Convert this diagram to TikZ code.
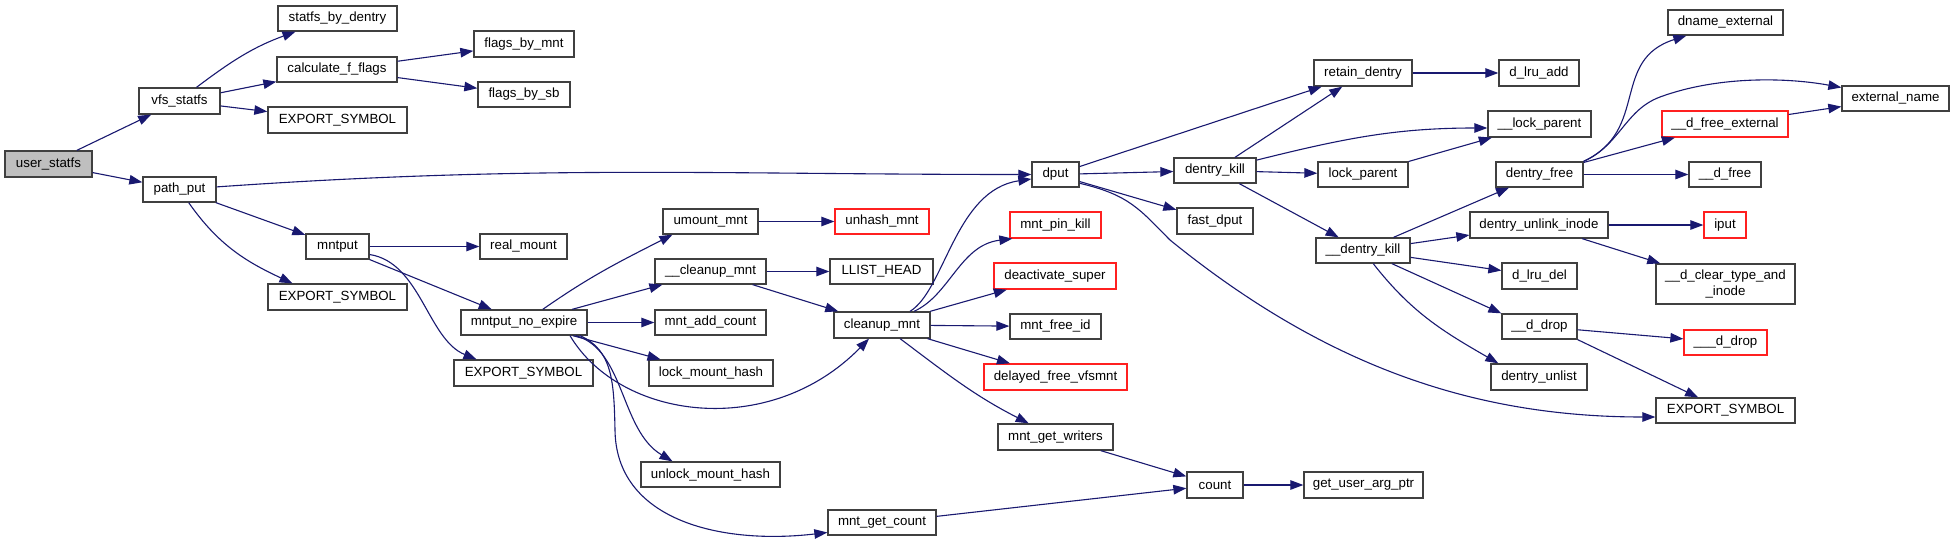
\documentclass[tikz,border=0pt]{standalone}
\usepackage{fontspec}
\setmainfont{Liberation Sans}
\usetikzlibrary{arrows.meta,calc}
\definecolor{edgec}{HTML}{191970}
\definecolor{boxc}{HTML}{404040}
\definecolor{redc}{HTML}{FF2020}
\definecolor{fillg}{HTML}{BFBFBF}
\newcommand\fnd[6]{\node[#1, minimum width=#4pt, minimum height=#5pt] (#2) at (#3) {#6};}
\begin{document}
\begin{tikzpicture}[x=1pt,y=1pt,
  fn/.style={draw=boxc, line width=1.3pt, inner sep=0pt, font=\fontsize{13.3}{15.5}\selectfont, text=black, align=center},
  redfn/.style={fn, draw=redc},
  rootfn/.style={fn, fill=fillg},
  call/.style={draw=edgec, line width=1.1pt, -{Triangle[length=13pt,width=9.5pt]}}
]
\fill[white] (0,0) rectangle (1955,-543);
\useasboundingbox (0,0) rectangle (1955,-543);

% nodes
\fnd{rootfn}{us}{48.5,-164}{87}{26}{user\_statfs}
\fnd{fn}{vfs}{179.5,-101}{81}{26}{vfs\_statfs}
\fnd{fn}{sbd}{337.5,-18.5}{119}{25}{statfs\_by\_dentry}
\fnd{fn}{cff}{337,-69.5}{120}{25}{calculate\_f\_flags}
\fnd{fn}{ex1}{337.5,-120}{139}{26}{EXPORT\_SYMBOL}
\fnd{fn}{fbm}{524,-44}{100}{26}{flags\_by\_mnt}
\fnd{fn}{fbs}{524,-94.5}{92}{25}{flags\_by\_sb}
\fnd{fn}{pp}{179.5,-189.5}{73}{25}{path\_put}
\fnd{fn}{mp}{337.5,-246.5}{63}{25}{mntput}
\fnd{fn}{rm}{523.5,-246.5}{87}{25}{real\_mount}
\fnd{fn}{ex2}{337.5,-297}{139}{26}{EXPORT\_SYMBOL}
\fnd{fn}{mne}{524,-322.5}{126}{25}{mntput\_no\_expire}
\fnd{fn}{ex3}{523.5,-373}{139}{26}{EXPORT\_SYMBOL}
\fnd{fn}{um}{710.5,-221.5}{95}{25}{umount\_mnt}
\fnd{redfn}{uh}{882,-221.5}{94}{25}{unhash\_mnt}
\fnd{fn}{cu}{710.5,-271.5}{111}{25}{\_\_cleanup\_mnt}
\fnd{fn}{lh}{881.5,-271.5}{103}{25}{LLIST\_HEAD}
\fnd{fn}{mac}{710.5,-322.5}{111}{25}{mnt\_add\_count}
\fnd{fn}{lmh}{711,-373}{124}{26}{lock\_mount\_hash}
\fnd{fn}{umh}{710.5,-474.5}{139}{25}{unlock\_mount\_hash}
\fnd{fn}{mgc}{882,-522.5}{108}{25}{mnt\_get\_count}
\fnd{fn}{cm}{882,-325}{96}{26}{cleanup\_mnt}
\fnd{fn}{dp}{1055.5,-174.5}{47}{25}{dput}
\fnd{redfn}{mpk}{1055.5,-225}{91}{26}{mnt\_pin\_kill}
\fnd{redfn}{ds}{1055,-276}{122}{26}{deactivate\_super}
\fnd{fn}{mfi}{1055.5,-326.5}{91}{25}{mnt\_free\_id}
\fnd{redfn}{dfv}{1055.5,-377}{143}{26}{delayed\_free\_vfsmnt}
\fnd{fn}{mgw}{1055.5,-437}{115}{26}{mnt\_get\_writers}
\fnd{fn}{cnt}{1215,-485}{56}{26}{count}
\fnd{fn}{guap}{1363.5,-485}{119}{26}{get\_user\_arg\_ptr}
\fnd{fn}{dk}{1215,-170.5}{82}{25}{dentry\_kill}
\fnd{fn}{fd}{1215,-221}{76}{26}{fast\_dput}
\fnd{fn}{rd}{1363,-73}{98}{26}{retain\_dentry}
\fnd{fn}{lp}{1363,-174.5}{90}{25}{lock\_parent}
\fnd{fn}{udk}{1363,-250.5}{94}{25}{\_\_dentry\_kill}
\fnd{fn}{dla}{1539,-73}{80}{26}{d\_lru\_add}
\fnd{fn}{ulp}{1539.5,-124}{103}{26}{\_\_lock\_parent}
\fnd{fn}{df}{1539.5,-174.5}{87}{25}{dentry\_free}
\fnd{fn}{dui}{1539,-225}{138}{26}{dentry\_unlink\_inode}
\fnd{fn}{dld}{1539.5,-276}{75}{26}{d\_lru\_del}
\fnd{fn}{udd}{1539.5,-326.5}{75}{25}{\_\_d\_drop}
\fnd{fn}{dul}{1539,-377}{96}{26}{dentry\_unlist}
\fnd{fn}{dne}{1725.5,-22.5}{115}{25}{dname\_external}
\fnd{redfn}{dfe}{1725,-124}{126}{26}{\_\_d\_free\_external}
\fnd{fn}{udf}{1725,-174.5}{72}{25}{\_\_d\_free}
\fnd{redfn}{ip}{1725,-225}{42}{26}{iput}
\fnd{fn}{dct}{1725.5,-284}{139}{40}{\_\_d\_clear\_type\_and\\\_inode}
\fnd{redfn}{uudd}{1725.5,-342.5}{83}{25}{\_\_\_d\_drop}
\fnd{fn}{ex4}{1725.5,-410.5}{139}{25}{EXPORT\_SYMBOL}
\fnd{fn}{en}{1895.5,-98.5}{107}{25}{external\_name}

% edges
\draw[call] (us) -- (vfs);
\draw[call] (us) -- (pp);
\draw[call] ($(vfs.north)+(17,0)$) to[out=37,in=200] ($(sbd.south)+(-42,0)$);
\draw[call] (vfs) -- (cff);
\draw[call] (vfs) -- (ex1);
\draw[call] (cff) -- (fbm);
\draw[call] (cff) -- (fbs);
\draw[call] (pp) to[out=4,in=180] (dp);
\draw[call] (pp) -- (mp);
\draw[call] (pp) to[out=-55,in=155] ($(ex2.north)+(-45,0)$);
\draw[call] (mp) -- (rm);
\draw[call] (mp) -- (mne);
\draw[call] (mp.-14) .. controls +(51,-8) and +(-49,20) .. ($(ex3.north)+(-47,0)$);
\draw[call] (mne) to[out=35,in=207] ($(um.south)+(-38,0)$);
\draw[call] (mne) -- (cu);
\draw[call] (mne) -- (mac);
\draw[call] (mne) -- (lmh);
\draw[call] ($(mne.south)+(46,0)$) .. controls (620,-420) and (770,-440) .. ($(cm.south)+(-13,0)$);
\draw[call] ($(mne.south)+(52,0)$) .. controls (625,-350) and (620,-430) .. ($(umh.north)+(-38,0)$);
\draw[call] ($(mne.south)+(56,0)$) .. controls (612,-350) and (614,-380) .. (615,-430)
   .. controls (616,-520) and (720,-545) .. ($(mgc.west)+(0,-10)$);
\draw[call] (um) -- (uh);
\draw[call] (cu) -- (lh);
\draw[call] (cu) -- (cm);
\draw[call] ($(cm.north)+(28,0)$) .. controls (945,-290) and (955,-190) .. ($(dp.west)+(0,-4.5)$);
\draw[call] ($(cm.north)+(32,0)$) .. controls (950,-295) and (960,-245) .. ($(mpk.south west)+(3,0)$);
\draw[call] (cm) -- (ds);
\draw[call] (cm) -- (mfi);
\draw[call] (cm) -- (dfv);
\draw[call] (cm) to[out=-37,in=153] (mgw);
\draw[call] (mgw) -- (cnt);
\draw[call] (mgc) -- (cnt);
\draw[call] (cnt) -- (guap);
\draw[call] (dp) -- (rd);
\draw[call] (dp) -- (dk);
\draw[call] (dp) -- (fd);
\draw[call] (dp.-20) .. controls (1130,-195) and (1140,-210) .. (1170,-240)
   .. controls (1330,-370) and (1480,-417) .. ($(ex4.west)+(0,-6.5)$);
\draw[call] (dk) -- (rd);
\draw[call] (dk) to[out=14,in=180] ($(ulp.west)+(0,-4)$);
\draw[call] (dk) -- (lp);
\draw[call] (dk) -- (udk);
\draw[call] (lp) -- (ulp);
\draw[call] (rd) -- (dla);
\draw[call] (udk) -- (df);
\draw[call] (udk) -- (dui);
\draw[call] (udk) -- (dld);
\draw[call] (udk) -- (udd.north west);
\draw[call] (udk) to[out=-52,in=150] ($(dul.north west)+(8,0)$);
\draw[call] (df.north east) .. controls (1650,-130) and (1610,-60) .. ($(dne.south west)+(19,0)$);
\draw[call] (df.north east) .. controls (1620,-145) and (1625,-110) .. (1660,-97)
   .. controls (1720,-75) and (1790,-78) .. ($(en.west)+(0,11)$);
\draw[call] (df) -- (dfe);
\draw[call] (df) -- (udf);
\draw[call] (dfe) -- (en);
\draw[call] (dui) -- (ip);
\draw[call] (dui) -- (dct);
\draw[call] (udd) -- (uudd);
\draw[call] (udd.south east) -- (ex4);
\end{tikzpicture}
\end{document}
